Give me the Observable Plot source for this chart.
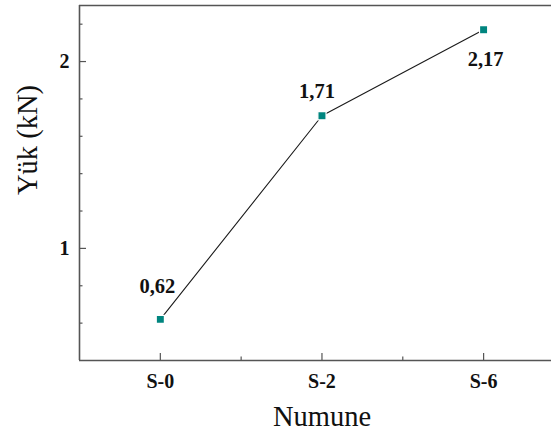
<!DOCTYPE html>
<html>
<head>
<meta charset="utf-8">
<script src="https://cdn.jsdelivr.net/npm/d3@7"></script>
<script src="https://cdn.jsdelivr.net/npm/@observablehq/plot@0.6"></script>
<style>
  body { margin: 0; background: white; }
  #chart svg { overflow: hidden; }
</style>
</head>
<body>
<div id="chart"></div>
<script>
const categories = ["S-0", "S-2", "S-6"];
const loads = [0.62, 1.71, 2.17];
const yMajorTicks = [1, 2];
const yMinorTicks = [0.6, 0.8, 1.2, 1.4, 1.6, 1.8, 2.2];
const xMinorTicks = [0.5, 1.5];
const yDomain = [0.4, 2.3];
const xDomain = [-0.5, 2.42];

const data = categories.map((c, i) => ({i, cat: c, value: loads[i]}));
const fmt = v => v.toFixed(2).replace(".", ",");
const serif = "'Liberation Serif', 'Times New Roman', serif";
const axisColor = "#555";
const teal = "#00857f";

const labelStyle = {x: "i", y: "value", text: d => fmt(d.value), fontSize: 20.5, fontWeight: "bold", fontFamily: serif, fill: "#111"};

const chart = Plot.plot({
  width: 551,
  height: 439,
  marginLeft: 79,
  marginRight: 0,
  marginTop: 5,
  marginBottom: 79,
  style: {fontFamily: serif, background: "white", overflow: "hidden"},
  x: {type: "linear", domain: xDomain, label: null},
  y: {domain: yDomain, label: null},
  marks: [
    // frame lines (left, bottom, top)
    Plot.ruleX([xDomain[0]], {stroke: axisColor, strokeWidth: 1.6}),
    Plot.ruleY([yDomain[0], yDomain[1]], {stroke: axisColor, strokeWidth: 1.6}),
    // x ticks
    Plot.axisX({ticks: [0, 1, 2], tickSize: -7, text: null, label: null, stroke: axisColor, strokeWidth: 1.2}),
    Plot.axisX({ticks: xMinorTicks, tickSize: -3.5, text: null, label: null, stroke: axisColor, strokeWidth: 1.2}),
    Plot.axisX({ticks: [0, 1, 2], tickSize: 0, tickPadding: 13, tickFormat: i => categories[i], fontSize: 20, fontWeight: "bold", fill: "#111", label: null}),
    // y ticks
    Plot.axisY({ticks: yMajorTicks, tickSize: -7, text: null, label: null, stroke: axisColor, strokeWidth: 1.2}),
    Plot.axisY({ticks: yMinorTicks, tickSize: -3.5, text: null, label: null, stroke: axisColor, strokeWidth: 1.2}),
    Plot.axisY({ticks: yMajorTicks, tickSize: 0, tickPadding: 10, tickFormat: d => String(d), fontSize: 20, fontWeight: "bold", fill: "#111", label: null}),
    // axis titles
    Plot.text(["Numune"], {frameAnchor: "bottom", x: 1, dy: 65, fontSize: 28.5, fill: "#111", lineAnchor: "bottom"}),
    Plot.text(["Yük (kN)"], {frameAnchor: "left", dx: -52, dy: 12, rotate: -90, fontSize: 28.5, fill: "#111"}),
    // data
    Plot.line(data, {x: "i", y: "value", stroke: "#1a1a1a", strokeWidth: 1.1}),
    Plot.dot(data, {x: "i", y: "value", symbol: "square", r: 4.6, fill: teal, stroke: "white", strokeWidth: 1.2}),
    Plot.text(data.slice(0, 1), {...labelStyle, dx: -3, dy: -33}),
    Plot.text(data.slice(1, 2), {...labelStyle, dx: -5, dy: -24}),
    Plot.text(data.slice(2, 3), {...labelStyle, dx: 2, dy: 30})
  ]
});
document.getElementById("chart").appendChild(chart);
</script>
</body>
</html>
